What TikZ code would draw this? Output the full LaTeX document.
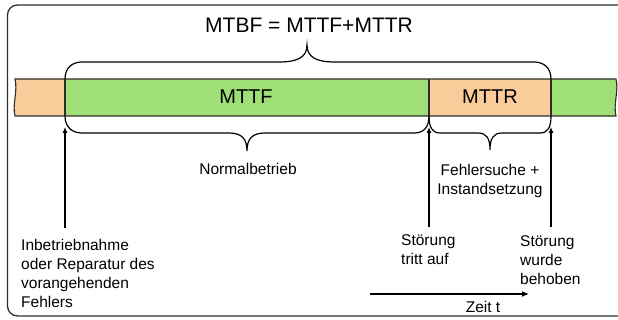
\documentclass[tikz,border=0pt]{standalone}
\usepackage{fontspec}
\setmainfont{Liberation Sans}
\usetikzlibrary{arrows.meta}
\definecolor{barorange}{RGB}{250,204,153}
\definecolor{bargreen}{RGB}{160,222,120}
\definecolor{edgegray}{RGB}{45,45,45}
\tikzset{
  frameline/.style={draw=edgegray,line width=1.3pt,rounded corners=10pt},
  barline/.style={draw=edgegray,line width=1.1pt},
  braceline/.style={draw=black,line width=1.2pt},
  eventarrow/.style={draw=black,line width=1.1pt,-{Latex[length=6pt,width=5pt]}},
  timearrow/.style={draw=black,line width=1.1pt,-{Latex[length=7pt,width=6pt]}},
  bigtext/.style={font=\fontsize{21}{25}\selectfont,inner sep=0pt},
  bartext/.style={font=\fontsize{20}{24}\selectfont,inner sep=0pt},
  smalltext/.style={font=\fontsize{15.5}{19}\selectfont,inner sep=0pt}
}
\begin{document}
\begin{tikzpicture}[x=1pt,y=-1pt]
\useasboundingbox (0,0) rectangle (618,320);
\begin{scope}
  \clip (0,0) rectangle (618,320);
  \draw[frameline] (7.5,5) rectangle (650,316);
  % bar segments
  \fill[barorange] (15,79) -- (65,79) -- (65,116) -- (15,116)
     .. controls (12,105) and (18,91) .. (15,79) -- cycle;
  \fill[bargreen] (65,79) rectangle (429,116);
  \fill[barorange] (429,79) rectangle (551,116);
  \fill[bargreen] (551,79) -- (616,79) .. controls (619,91) and (613,104) .. (616,116) -- (551,116) -- cycle;
  % bar outlines
  \draw[barline] (15,79) -- (616,79) .. controls (619,91) and (613,104) .. (616,116) -- (15,116)
     .. controls (12,105) and (18,91) .. (15,79) -- cycle;
  \draw[barline] (65,79) -- (65,116);
  \draw[barline] (429,79) -- (429,116);
  \draw[barline] (551,79) -- (551,116);
\end{scope}

% texts (multi-line nodes: base anchor = baseline of last line)
\node[bigtext,anchor=base] (mtbf) at (309,33) {MTBF = MTTF+MTTR};
\node[bartext,anchor=base] (mttf) at (246,104) {MTTF};
\node[bartext,anchor=base] (mttr) at (490,104) {MTTR};
\node[smalltext,anchor=base] (normal) at (248,175) {Normalbetrieb};
\node[smalltext,anchor=base,align=center] (repair) at (490,195) {Fehlersuche +\\Instandsetzung};
\node[smalltext,anchor=base west,align=left] (start) at (21,307) {Inbetriebnahme\\oder Reparatur des\\vorangehenden\\Fehlers};
\node[smalltext,anchor=base west,align=left] (fail) at (401,265) {Störung\\tritt auf};
\node[smalltext,anchor=base west,align=left] (fixed) at (520,284) {Störung\\wurde\\behoben};
\node[smalltext,anchor=base] (zeit) at (483,312) {Zeit t};

% braces
\draw[braceline] (65,79) .. controls (65,68) and (72,62) .. (82,62) -- (279,62)
   .. controls (298,62) and (307,57) .. (307,45)
   .. controls (307,57) and (316,62) .. (335,62) -- (534,62)
   .. controls (544,62) and (551,68) .. (551,79);
\draw[braceline] (65,116) .. controls (65,127) and (72,133) .. (82,133) -- (229,133)
   .. controls (242,133) and (247,139) .. (247,151)
   .. controls (247,139) and (252,133) .. (265,133) -- (414,133)
   .. controls (424,133) and (429,127) .. (429,116);
\draw[braceline] (429,116) .. controls (429,127) and (432,133) .. (440,133) -- (478,133)
   .. controls (487,133) and (490,139) .. (490,150)
   .. controls (490,139) and (493,133) .. (502,133) -- (540,133)
   .. controls (548,133) and (551,127) .. (551,116);

% event arrows
\coordinate (startfoot) at (65,228);
\coordinate (starttip) at (65,127);
\coordinate (failfoot) at (429,227);
\coordinate (failtip) at (429,127);
\coordinate (fixedfoot) at (551,227);
\coordinate (fixedtip) at (551,127);
\draw[eventarrow] (startfoot) -- (starttip);
\draw[eventarrow] (failfoot) -- (failtip);
\draw[eventarrow] (fixedfoot) -- (fixedtip);

% time axis
\coordinate (tstart) at (370,294);
\coordinate (tend) at (529,294);
\draw[timearrow] (tstart) -- (tend);
\end{tikzpicture}
\end{document}
